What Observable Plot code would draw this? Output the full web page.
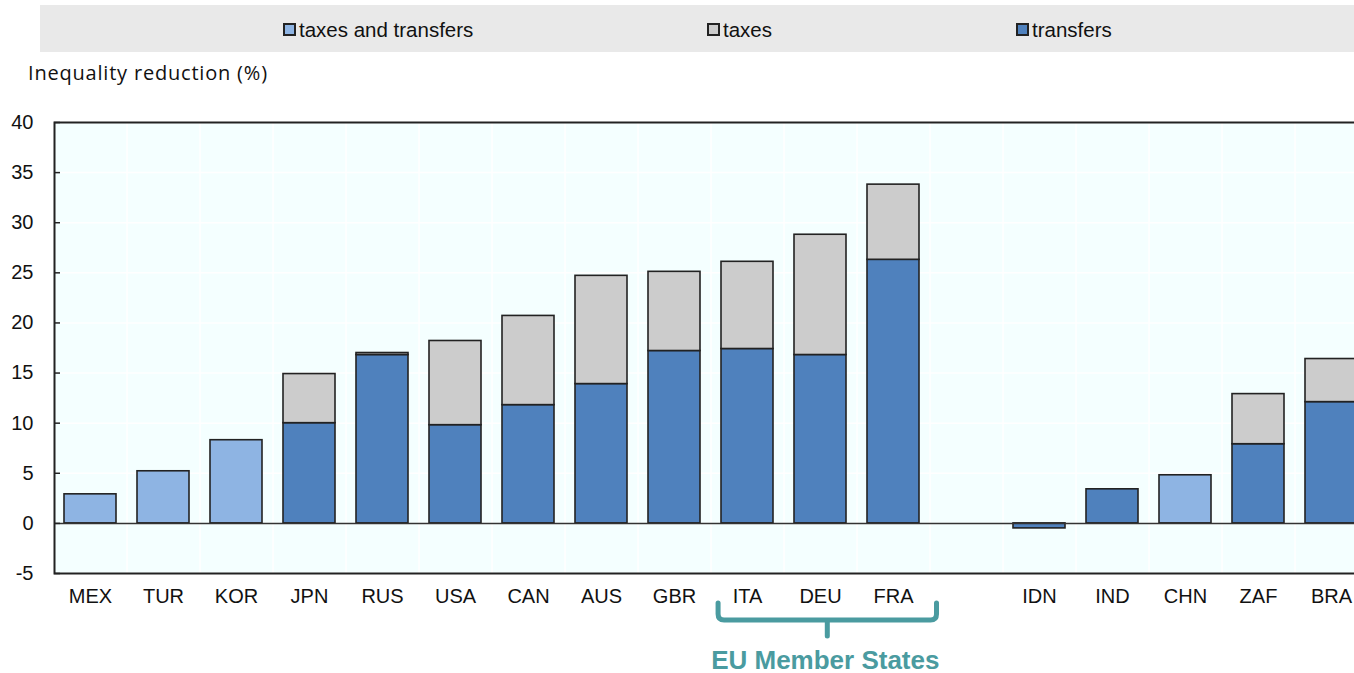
<!DOCTYPE html>
<html><head><meta charset="utf-8">
<script src="https://cdn.jsdelivr.net/npm/d3@7"></script>
<script src="https://cdn.jsdelivr.net/npm/@observablehq/plot@0.6"></script>
<style>
html,body{margin:0;padding:0;background:#fff;overflow:hidden;width:1354px;height:673px;position:relative}
#legend{position:absolute;left:40px;top:5px;width:1314px;height:47px;background:#E9E9E9;font-family:"Liberation Sans",Arial,sans-serif;font-size:20.5px;color:#111}
.item{position:absolute;top:1px;height:47px;display:flex;align-items:center}
.sw{width:9px;height:9px;border:2px solid #222;margin-right:3px}
#title{position:absolute;left:28px;top:59px;font-family:"Open Sans",sans-serif;font-size:20px;letter-spacing:0.8px;color:#111}
#chart{position:absolute;left:0;top:100px;width:1368px}
#chart svg{max-width:none}
</style></head><body>
<div id="legend"></div>
<div id="title">Inequality reduction (%)</div>
<div id="chart"></div>
<script>
const countries = ["MEX","TUR","KOR","JPN","RUS","USA","CAN","AUS","GBR","ITA","DEU","FRA","","IDN","IND","CHN","ZAF","BRA"];
const transfers = [null,null,null,10.0,16.8,9.8,11.8,13.9,17.2,17.4,16.8,26.3,null,-0.5,3.4,null,7.9,12.1];
const taxes = [null,null,null,4.9,0.2,8.4,8.9,10.8,7.9,8.7,12.0,7.5,null,null,null,null,5.0,4.3];
const taxesAndTransfers = [2.9,5.2,8.3,null,null,null,null,null,null,null,null,null,null,null,null,4.8,null,null];
const seriesNames = ["transfers","taxes","taxes and transfers"];
const seriesColors = ["#4F81BD","#CCCCCC","#8EB4E3"];
const legendOrder = ["taxes and transfers","taxes","transfers"];
const legendLeft = [243,667,976];
const yTicks = [-5,0,5,10,15,20,25,30,35,40];
const euGroup = ["ITA","DEU","FRA"];
const euLabel = "EU Member States";

(function(){
const seriesValues = [transfers, taxes, taxesAndTransfers];
const rows = [];
countries.forEach((c,i)=>{
  seriesNames.forEach((s,j)=>{
    const v = seriesValues[j][i];
    if (v !== null) rows.push({country:c, series:s, value:v});
  });
});

// legend
const leg = document.getElementById("legend");
legendOrder.forEach((s,i)=>{
  const it = document.createElement("div");
  it.className="item"; it.style.left = legendLeft[i]+"px";
  const sw = document.createElement("span"); sw.className="sw";
  sw.style.background = seriesColors[seriesNames.indexOf(s)];
  const t = document.createElement("span"); t.textContent = s;
  it.appendChild(sw); it.appendChild(t); leg.appendChild(it);
});

const W = 1368, ML = 54.5;
const step = (W - ML)/countries.length;
const chart = Plot.plot({
  width: W, height: 573, marginLeft: 54, marginRight: 0, marginTop: 22, marginBottom: 100,
  style:{fontFamily:"'Liberation Sans', Arial, sans-serif", fontSize:"20px", color:"#111", background:"transparent", overflow:"visible", maxWidth:"none"},
  x:{domain:countries, paddingInner:0.287, paddingOuter:0.1435, label:null},
  y:{domain:[-5,40], label:null},
  color:{domain:seriesNames, range:seriesColors},
  marks:[
    Plot.frame({fill:"#F4FFFF", stroke:null}),
    Plot.gridY(yTicks, {stroke:"#fff", strokeOpacity:1, strokeWidth:1.5}),
    Plot.ruleX(countries, {x:d=>d, dx:-step/2, stroke:"#fff", strokeWidth:1.5}),
    Plot.barY(rows, {x:"country", y:"value", fill:"series", stroke:"#222", strokeWidth:1.6, order:seriesNames}),
    Plot.ruleY([0], {stroke:"#333", strokeWidth:1.5}),
    Plot.axisY(yTicks, {tickSize:-6, tickPadding:27, tickFormat:d=>String(d), stroke:"#222", strokeWidth:1.5}),
    Plot.axisX({tickSize:0, tickPadding:15}),
    Plot.frame({stroke:"#222", strokeWidth:2})
  ]
});
document.getElementById("chart").appendChild(chart);

// EU bracket annotation, positioned from the x scale
const xs = chart.scale("x"), ys = chart.scale("y");
const bw = step;
const bx0 = xs.apply(euGroup[0]) - 0.04*bw;
const bx1 = xs.apply(euGroup[euGroup.length-1]) + xs.bandwidth + 0.24*bw;
const yb = ys.apply(-5);
const bTop = yb + 30, bBot = yb + 47, bStem = yb + 63, r = 6;
const cx = (bx0 + bx1)/2;
const svg = d3.select(chart);
svg.append("path")
  .attr("d", `M${bx0},${bTop} V${bBot-r} Q${bx0},${bBot} ${bx0+r},${bBot} H${bx1-r} Q${bx1},${bBot} ${bx1},${bBot-r} V${bTop} M${cx},${bBot} V${bStem}`)
  .attr("fill","none").attr("stroke","#4A9BA0").attr("stroke-width",5).attr("stroke-linecap","round").attr("stroke-linejoin","round");
svg.append("text").attr("x", cx-2).attr("y", yb+96)
  .attr("text-anchor","middle").attr("font-family","'Liberation Sans', Arial, sans-serif")
  .attr("font-weight","bold").attr("font-size",26).attr("fill","#4A9BA0").text(euLabel);
})();
</script>
</body></html>
